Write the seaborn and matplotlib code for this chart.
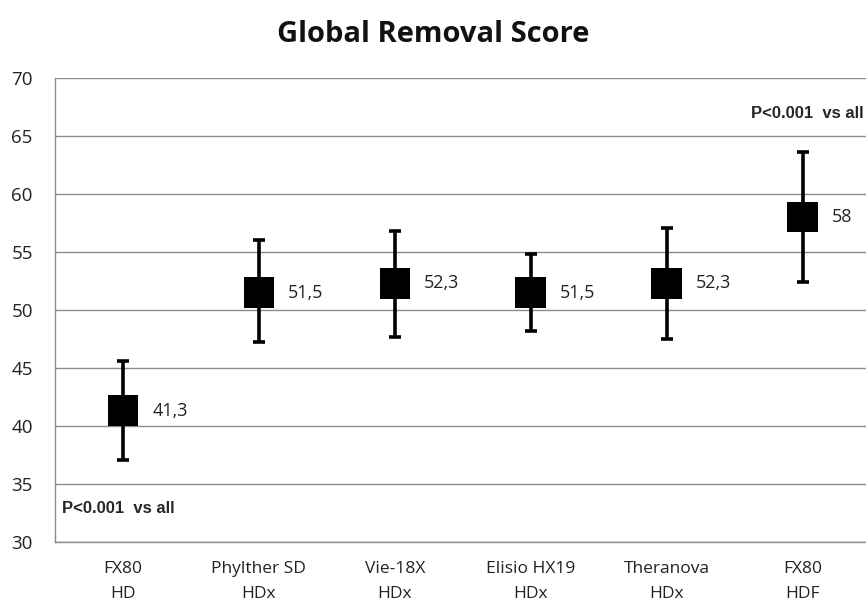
import numpy as np
import pandas as pd
import matplotlib
matplotlib.use("Agg")
import matplotlib.pyplot as plt
import seaborn as sns

# values
devices = ["FX80\nHD", "Phylther SD\nHDx", "Vie-18X\nHDx", "Elisio HX19\nHDx", "Theranova\nHDx", "FX80\nHDF"]
means = [41.3, 51.5, 52.3, 51.5, 52.3, 58.0]
lower = [37.1, 47.2, 47.7, 48.2, 47.5, 52.4]
upper = [45.6, 56.0, 56.8, 54.8, 57.1, 63.6]
mean_labels = ["41,3", "51,5", "52,3", "51,5", "52,3", "58"]

df = pd.DataFrame({"device": devices, "mean": means, "lo": lower, "hi": upper})
df["pos"] = np.arange(len(df))

sns.set_style("white")
plt.rcParams["font.family"] = ["Open Sans", "DejaVu Sans"]

fig = plt.figure(figsize=(8.66, 6.02), dpi=100)
ax = fig.add_axes([0.0635, 0.0997, 0.942, 0.771])

ax.set_ylim(30, 70)
ax.set_xlim(-0.5, 5.5)
ax.set_yticks(range(30, 71, 5))
ax.yaxis.grid(True, color="#8c8c8c", linewidth=1.0)
ax.set_axisbelow(True)

# whiskers
ax.errorbar(df["pos"], df["mean"],
            yerr=[df["mean"] - df["lo"], df["hi"] - df["mean"]],
            fmt="none", ecolor="black", elinewidth=2.6, capsize=4, capthick=2.6, zorder=3)

sns.scatterplot(data=df, x="pos", y="mean", marker="s", s=490, color="black",
                edgecolor="none", ax=ax, zorder=4, legend=False)

for x, y, t in zip(df["pos"], df["mean"], mean_labels):
    ax.annotate(t, (x, y), xytext=(21, 0), textcoords="offset points",
                ha="left", va="center", fontsize=13, color="#222222")

ax.text(-0.45, 32.9, "P<0.001  vs all", fontsize=12, fontweight="bold",
        family=["Liberation Sans", "DejaVu Sans"], ha="left", va="center")
ax.text(5.445, 66.9, "P<0.001  vs all", fontsize=12, fontweight="bold",
        family=["Liberation Sans", "DejaVu Sans"], ha="right", va="center")

ax.set_xticks(df["pos"])
ax.set_xticklabels(devices, fontsize=12.5, color="#222222", linespacing=1.75)
ax.set_xticks(np.arange(-0.5, 5.6, 1.0), minor=True)
ax.tick_params(axis="x", which="major", length=0, pad=14)
ax.tick_params(axis="x", which="minor", length=5, color="#8c8c8c", direction="out")
ax.tick_params(axis="y", length=5, color="#8c8c8c", direction="out", labelsize=13.5,
               labelcolor="#222222", pad=11)
ax.set_xlabel("")
ax.set_ylabel("")

for side in ["top", "right"]:
    ax.spines[side].set_visible(False)
for side in ["left", "bottom"]:
    ax.spines[side].set_color("#8c8c8c")
    ax.spines[side].set_linewidth(1.0)

fig.text(0.5, 0.942, "Global Removal Score", ha="center", va="center",
         fontsize=21, fontweight="bold", color="#111111")

fig.savefig("out.png", dpi=100)
